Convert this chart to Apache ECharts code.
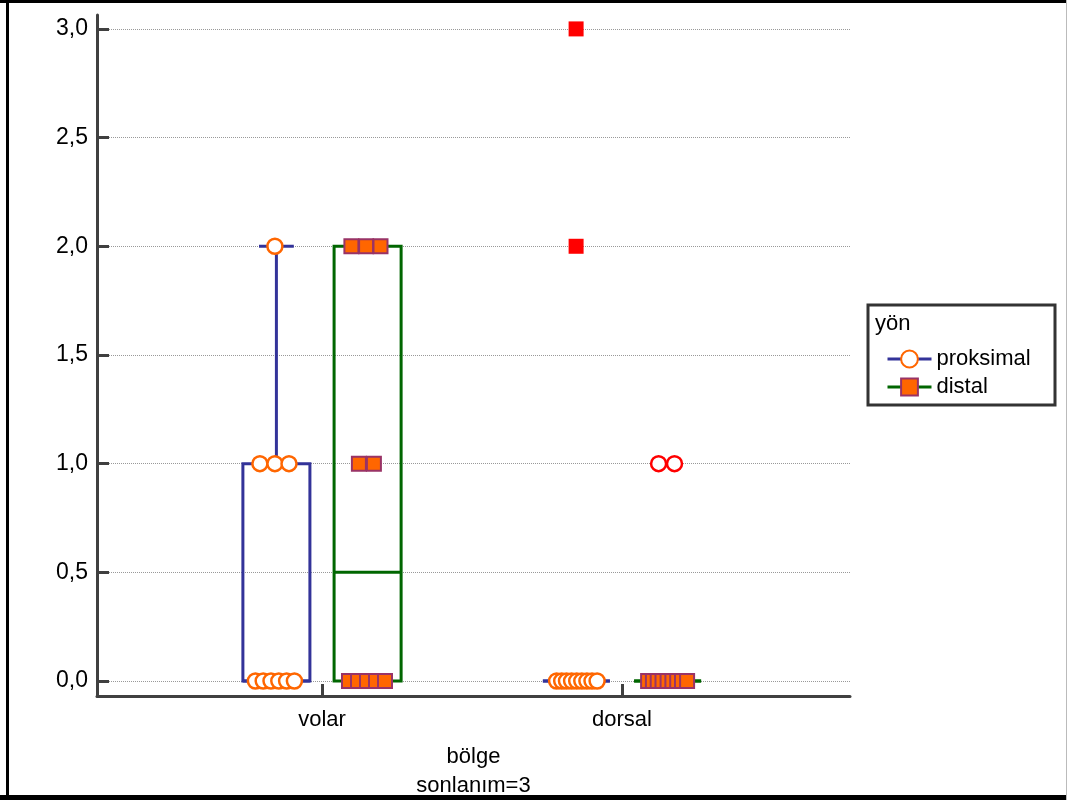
<!DOCTYPE html>
<html>
<head>
<meta charset="utf-8">
<script src="https://cdn.jsdelivr.net/npm/echarts@6/dist/echarts.min.js"></script>
<style>
  html, body { margin: 0; padding: 0; background: #fff; }
  #chart { width: 1067px; height: 800px; }
</style>
</head>
<body>
<div id="chart"></div>
<script>
// categories on the x axis (1 = volar, 2 = dorsal)
const categories = ['volar', 'dorsal']
const groups = ['proksimal', 'distal']
const yTicks = [0, 0.5, 1, 1.5, 2, 2.5, 3]

// box stats per category: [min, Q1, median, Q3, max]
const proksimalStats = [[0, 0, 0, 1, 2], [0, 0, 0, 0, 0]]
const distalStats = [[0, 0, 0.5, 2, 2], [0, 0, 0, 0, 0]]

// observations: [x (category + jitter), value]
const proksimalPoints = [
  [0.843, 2],
  [0.793, 1], [0.843, 1], [0.890, 1],
  [0.778, 0], [0.804, 0], [0.830, 0], [0.856, 0], [0.882, 0], [0.908, 0],
  [1.782, 0], [1.799, 0], [1.815, 0], [1.832, 0], [1.849, 0], [1.866, 0], [1.883, 0], [1.900, 0], [1.917, 0]
]
const distalPoints = [
  [1.098, 2], [1.147, 2], [1.195, 2],
  [1.123, 1], [1.173, 1],
  [1.090, 0], [1.120, 0], [1.150, 0], [1.180, 0], [1.210, 0],
  [2.087, 0], [2.103, 0], [2.119, 0], [2.135, 0], [2.152, 0], [2.168, 0], [2.184, 0], [2.200, 0], [2.217, 0]
]
const outlierSquares = [[1.847, 3], [1.847, 2]]
const outlierCircles = [[2.122, 1], [2.175, 1]]

const FONT = 'Liberation Sans'
const blue = '#333399'
const green = '#006600'
const orange = '#ff6600'
const purple = '#993366'

const groupOffset = 0.152
const boxHalf = 0.1117
const capHalf = 0.058

const boxData = (stats, off) => stats.map((s, i) => [i + 1 + off, ...s])

const renderBox = (color) => (params, api) => {
  const x = api.value(0)
  const p = (dx, v) => api.coord([x + dx, v])
  const mn = api.value(1), q1 = api.value(2), md = api.value(3), q3 = api.value(4), mx = api.value(5)
  const style = { stroke: color, lineWidth: 3, fill: null }
  const line = (a, b) => ({ type: 'line', shape: { x1: a[0], y1: a[1], x2: b[0], y2: b[1] }, style })
  const tl = p(-boxHalf, q3), br = p(boxHalf, q1)
  return {
    type: 'group',
    children: [
      line(p(0, q3), p(0, mx)),
      line(p(0, q1), p(0, mn)),
      line(p(-capHalf, mx), p(capHalf, mx)),
      line(p(-capHalf, mn), p(capHalf, mn)),
      { type: 'rect', shape: { x: tl[0], y: tl[1], width: br[0] - tl[0], height: br[1] - tl[1] }, style },
      line(p(-boxHalf, md), p(boxHalf, md))
    ]
  }
}

const chart = echarts.init(document.getElementById('chart'))

const option = {
  backgroundColor: '#fff',
  animation: false,
  textStyle: { fontFamily: FONT },
  grid: { left: 97, right: 217, top: 15, bottom: 104, containLabel: false, outerBoundsMode: 'none' },
  xAxis: {
    type: 'value',
    min: 0.25,
    max: 2.76,
    name: 'bölge\nsonlanım=3',
    nameLocation: 'middle',
    nameGap: 46,
    nameTextStyle: { color: '#000', fontSize: 22, lineHeight: 29, fontFamily: FONT },
    axisLine: { onZero: false, lineStyle: { color: '#404040', width: 3 } },
    axisTick: { inside: true, length: 12, customValues: [1, 2], lineStyle: { color: '#404040', width: 3 } },
    axisLabel: {
      customValues: [1, 2],
      color: '#000',
      fontSize: 22,
      margin: 13,
      formatter: v => categories[Math.round(v) - 1]
    },
    splitLine: { show: false }
  },
  yAxis: {
    type: 'value',
    min: -0.069,
    max: 3.064,
    axisLine: { show: true, onZero: false, lineStyle: { color: '#404040', width: 3 } },
    axisTick: { show: true, inside: true, length: 12, customValues: yTicks, lineStyle: { color: '#404040', width: 3 } },
    axisLabel: {
      customValues: yTicks,
      color: '#000',
      fontSize: 23,
      margin: 9,
      formatter: v => v.toFixed(1).replace('.', ',')
    },
    splitLine: { show: true, lineStyle: { color: '#999', type: 'dotted', width: 1 } }
  },
  legend: {
    data: groups,
    orient: 'vertical',
    left: 881,
    top: 343,
    itemWidth: 44,
    itemHeight: 21,
    itemGap: 6,
    lineStyle: { width: 3 },
    textStyle: { color: '#000', fontSize: 22, fontFamily: FONT }
  },
  graphic: [
    { type: 'rect', shape: { x: 868, y: 305, width: 187, height: 100 }, style: { fill: null, stroke: '#333', lineWidth: 3 } },
    { type: 'text', left: 875, top: 313, style: { text: 'yön', fill: '#000', font: '22px "Liberation Sans"' } },
    { type: 'rect', shape: { x: 0, y: 0, width: 1067, height: 3 }, style: { fill: '#000' } },
    { type: 'rect', shape: { x: 6, y: 0, width: 3, height: 800 }, style: { fill: '#000' } },
    { type: 'rect', shape: { x: 0, y: 795, width: 1067, height: 5 }, style: { fill: '#000' } },
    { type: 'rect', shape: { x: 1066, y: 0, width: 1, height: 800 }, style: { fill: '#bbb' } }
  ],
  series: [
    {
      name: 'proksimal',
      type: 'line',
      data: [],
      symbol: 'circle',
      symbolSize: 16,
      lineStyle: { color: blue, width: 3 },
      itemStyle: { color: '#fff', borderColor: orange, borderWidth: 2 }
    },
    {
      name: 'distal',
      type: 'line',
      data: [],
      symbol: 'rect',
      symbolSize: 16,
      lineStyle: { color: green, width: 3 },
      itemStyle: { color: orange, borderColor: purple, borderWidth: 2 }
    },
    {
      name: 'proksimal-box',
      type: 'custom',
      z: 2,
      renderItem: renderBox(blue),
      encode: { x: 0, y: [1, 2, 3, 4, 5] },
      data: boxData(proksimalStats, -groupOffset)
    },
    {
      name: 'distal-box',
      type: 'custom',
      z: 2,
      renderItem: renderBox(green),
      encode: { x: 0, y: [1, 2, 3, 4, 5] },
      data: boxData(distalStats, groupOffset)
    },
    {
      name: 'proksimal-pts',
      type: 'scatter',
      z: 3,
      symbol: 'circle',
      symbolSize: 15,
      itemStyle: { color: '#fff', borderColor: orange, borderWidth: 2.5, opacity: 1 },
      data: proksimalPoints
    },
    {
      name: 'distal-pts',
      type: 'scatter',
      z: 3,
      symbol: 'rect',
      symbolSize: 14,
      itemStyle: { color: orange, borderColor: purple, borderWidth: 2, opacity: 1 },
      data: distalPoints
    },
    {
      name: 'outlier-sq',
      type: 'scatter',
      z: 3,
      symbol: 'rect',
      symbolSize: 15,
      itemStyle: { color: '#ff0000', opacity: 1 },
      data: outlierSquares
    },
    {
      name: 'outlier-ci',
      type: 'scatter',
      z: 3,
      symbol: 'circle',
      symbolSize: 15,
      itemStyle: { color: '#fff', borderColor: '#ff0000', borderWidth: 2.5, opacity: 1 },
      data: outlierCircles
    }
  ]
}

chart.setOption(option)

window.addEventListener('resize', () => {
  chart?.resize()
})
</script>
</body>
</html>
